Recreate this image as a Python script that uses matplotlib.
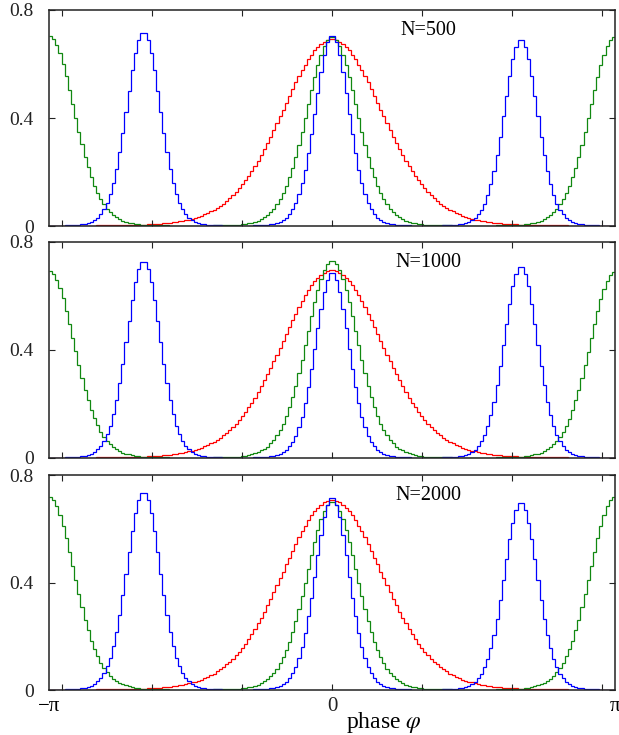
import numpy as np
import matplotlib
matplotlib.use("Agg")
from matplotlib import pyplot as plt

plt.rcParams['font.family'] = ['Liberation Serif', 'DejaVu Serif']
plt.rcParams['mathtext.fontset'] = 'stix'

# histogram values, 180 bins of 2 degrees from -pi to pi
# red: one cluster, green: two clusters, blue: three clusters

# ---- N = 500 ----
red_500_a = [
	0.001,0.001,0.001,0.001,0.001,0.001,0.001,0.001,0.001,0.001,
	0.001,0.001,0.001,0.001,0.001,0.002,0.002,0.002,0.002,0.002,
	0.002,0.002,0.003,0.003,0.003,0.003,0.004,0.004,0.004,0.005,
	0.005,0.006,0.006,0.007,0.008,0.009,0.010,0.011,0.012,0.014,
	0.015,0.017,0.019,0.021,0.024,0.027,0.030,0.034,0.038,0.043,
	0.048,0.054,0.060,0.067,0.075,0.083,0.093,0.103,0.114,0.126,
	0.139,0.154,0.169,0.186,0.203,0.222,0.242,0.263,0.285,0.308,
	0.331,0.356,0.380,0.406,0.431,0.457,0.482,0.507,0.532,0.555,
	0.577,0.598,0.617,0.635,0.650,0.663,0.674,0.682,0.688,0.691]
red_500_b = [
	0.691,0.688,0.682,0.674,0.663,0.650,0.635,0.617,0.598,0.577,
	0.555,0.532,0.507,0.482,0.457,0.431,0.406,0.380,0.356,0.331,
	0.308,0.285,0.263,0.242,0.222,0.203,0.186,0.169,0.154,0.139,
	0.126,0.114,0.103,0.093,0.083,0.075,0.067,0.060,0.054,0.048,
	0.043,0.038,0.034,0.030,0.027,0.024,0.021,0.019,0.017,0.015,
	0.014,0.012,0.011,0.010,0.009,0.008,0.007,0.006,0.006,0.005,
	0.005,0.004,0.004,0.004,0.003,0.003,0.003,0.003,0.002,0.002,
	0.002,0.002,0.002,0.002,0.002,0.001,0.001,0.001,0.001,0.001,
	0.001,0.001,0.001,0.001,0.001,0.001,0.001,0.001,0.001,0.001]
green_500_l = [
	0.704,0.693,0.670,0.639,0.600,0.554,0.505,0.453,0.401,0.350,
	0.302,0.257,0.217,0.181,0.149,0.122,0.100,0.081,0.064,0.052,
	0.041,0.033,0.027,0.020,0.016,0.013,0.010,0.008,0.007,0.005,
	0.004,0.004,0.003,0.003,0.002,0.002,0.002,0.002,0.001,0.001,
	0.001,0.001,0.001,0.001,0.001]
green_500_m = [
	0.001,0.001,0.001,0.001,0.001,0.001,0.001,0.002,0.002,0.002,
	0.002,0.003,0.003,0.004,0.004,0.005,0.007,0.008,0.010,0.013,
	0.016,0.020,0.026,0.032,0.041,0.052,0.064,0.080,0.099,0.122,
	0.148,0.180,0.216,0.256,0.300,0.348,0.399,0.451,0.502,0.551,
	0.597,0.635,0.667,0.689,0.700,
	0.700,0.689,0.667,0.635,0.597,0.551,0.502,0.451,0.399,0.348,
	0.300,0.256,0.216,0.180,0.148,0.122,0.099,0.080,0.064,0.052,
	0.041,0.032,0.026,0.020,0.016,0.013,0.010,0.008,0.007,0.005,
	0.004,0.004,0.003,0.003,0.002,0.002,0.002,0.002,0.001,0.001,
	0.001,0.001,0.001,0.001,0.001]
green_500_r = [
	0.001,0.001,0.001,0.001,0.001,0.001,0.001,0.002,0.002,0.002,
	0.002,0.003,0.003,0.004,0.004,0.005,0.007,0.008,0.010,0.013,
	0.016,0.020,0.026,0.032,0.041,0.052,0.064,0.080,0.099,0.122,
	0.148,0.180,0.216,0.256,0.300,0.348,0.399,0.451,0.502,0.551,
	0.597,0.635,0.667,0.689,0.700]
blue_500_l = [
	0.001,0.001,0.001,0.001,0.001,0.002,0.002,0.003,0.003,0.004,
	0.006,0.008,0.011,0.016,0.022,0.031,0.045,0.062,0.086,0.119,
	0.160,0.211,0.274,0.344,0.422,0.501,0.577,0.642,0.690,0.716,
	0.716,0.690,0.642,0.577,0.501,0.422,0.344,0.274,0.211,0.160,
	0.119,0.086,0.062,0.045,0.031,0.022,0.016,0.011,0.008,0.006,
	0.004,0.003,0.003,0.002,0.002,0.001,0.001,0.001,0.001,0.001]
blue_500_m = [
	0.001,0.001,0.001,0.001,0.001,0.002,0.002,0.003,0.003,0.004,
	0.006,0.008,0.011,0.015,0.022,0.031,0.044,0.062,0.085,0.117,
	0.158,0.208,0.270,0.339,0.416,0.494,0.569,0.632,0.680,0.705,
	0.705,0.680,0.632,0.569,0.494,0.416,0.339,0.270,0.208,0.158,
	0.117,0.085,0.062,0.044,0.031,0.022,0.015,0.011,0.008,0.006,
	0.004,0.003,0.003,0.002,0.002,0.001,0.001,0.001,0.001,0.001]
blue_500_r = [
	0.001,0.001,0.001,0.001,0.001,0.002,0.002,0.003,0.003,0.004,
	0.006,0.008,0.011,0.015,0.021,0.030,0.043,0.060,0.083,0.114,
	0.154,0.203,0.263,0.331,0.406,0.482,0.555,0.617,0.663,0.688,
	0.688,0.663,0.617,0.555,0.482,0.406,0.331,0.263,0.203,0.154,
	0.114,0.083,0.060,0.043,0.030,0.021,0.015,0.011,0.008,0.006,
	0.004,0.003,0.003,0.002,0.002,0.001,0.001,0.001,0.001,0.001]

# ---- N = 1000 ----
red_1000_a = [
	0.001,0.001,0.001,0.001,0.001,0.001,0.001,0.001,0.001,0.001,
	0.001,0.001,0.001,0.001,0.001,0.002,0.002,0.002,0.002,0.002,
	0.002,0.002,0.003,0.003,0.003,0.003,0.004,0.004,0.004,0.005,
	0.005,0.006,0.006,0.007,0.008,0.009,0.010,0.011,0.012,0.014,
	0.015,0.017,0.019,0.021,0.024,0.027,0.030,0.034,0.038,0.043,
	0.048,0.054,0.060,0.067,0.075,0.084,0.094,0.104,0.115,0.127,
	0.140,0.155,0.170,0.187,0.204,0.223,0.243,0.265,0.287,0.310,
	0.333,0.358,0.382,0.408,0.434,0.460,0.485,0.510,0.535,0.558,
	0.580,0.602,0.621,0.639,0.654,0.667,0.678,0.686,0.692,0.695]
red_1000_b = [
	0.695,0.692,0.686,0.678,0.667,0.654,0.639,0.621,0.602,0.580,
	0.558,0.535,0.510,0.485,0.460,0.434,0.408,0.382,0.358,0.333,
	0.310,0.287,0.265,0.243,0.223,0.204,0.187,0.170,0.155,0.140,
	0.127,0.115,0.104,0.094,0.084,0.075,0.067,0.060,0.054,0.048,
	0.043,0.038,0.034,0.030,0.027,0.024,0.021,0.019,0.017,0.015,
	0.014,0.012,0.011,0.010,0.009,0.008,0.007,0.006,0.006,0.005,
	0.005,0.004,0.004,0.004,0.003,0.003,0.003,0.003,0.002,0.002,
	0.002,0.002,0.002,0.002,0.002,0.001,0.001,0.001,0.001,0.001,
	0.001,0.001,0.001,0.001,0.001,0.001,0.001,0.001,0.001,0.001]
green_1000_l = [
	0.693,0.682,0.660,0.629,0.591,0.546,0.497,0.446,0.395,0.345,
	0.297,0.253,0.214,0.178,0.147,0.121,0.098,0.079,0.063,0.051,
	0.040,0.032,0.026,0.020,0.016,0.013,0.010,0.008,0.007,0.005,
	0.004,0.004,0.003,0.003,0.002,0.002,0.002,0.002,0.001,0.001,
	0.001,0.001,0.001,0.001,0.001]
green_1000_m = [
	0.001,0.001,0.001,0.001,0.001,0.001,0.001,0.002,0.002,0.002,
	0.002,0.003,0.003,0.004,0.004,0.005,0.007,0.008,0.011,0.014,
	0.017,0.021,0.028,0.034,0.042,0.054,0.067,0.084,0.104,0.127,
	0.155,0.188,0.226,0.267,0.314,0.364,0.417,0.471,0.525,0.576,
	0.623,0.664,0.696,0.720,0.731,
	0.731,0.720,0.696,0.664,0.623,0.576,0.525,0.471,0.417,0.364,
	0.314,0.267,0.226,0.188,0.155,0.127,0.104,0.084,0.067,0.054,
	0.042,0.034,0.028,0.021,0.017,0.014,0.011,0.008,0.007,0.005,
	0.004,0.004,0.003,0.003,0.002,0.002,0.002,0.002,0.001,0.001,
	0.001,0.001,0.001,0.001,0.001]
green_1000_r = [
	0.001,0.001,0.001,0.001,0.001,0.001,0.001,0.002,0.002,0.002,
	0.002,0.003,0.003,0.004,0.004,0.005,0.007,0.008,0.010,0.013,
	0.016,0.020,0.026,0.032,0.040,0.051,0.063,0.079,0.098,0.120,
	0.146,0.177,0.213,0.252,0.296,0.343,0.393,0.444,0.495,0.543,
	0.588,0.626,0.657,0.679,0.690]
blue_1000_l = [
	0.001,0.001,0.001,0.001,0.001,0.002,0.002,0.003,0.003,0.004,
	0.006,0.008,0.012,0.016,0.022,0.032,0.045,0.063,0.088,0.120,
	0.162,0.214,0.277,0.349,0.428,0.509,0.586,0.651,0.699,0.726,
	0.726,0.699,0.651,0.586,0.509,0.428,0.349,0.277,0.214,0.162,
	0.120,0.088,0.063,0.045,0.032,0.022,0.016,0.012,0.008,0.006,
	0.004,0.003,0.003,0.002,0.002,0.001,0.001,0.001,0.001,0.001]
blue_1000_m = [
	0.001,0.001,0.001,0.001,0.001,0.002,0.002,0.003,0.003,0.004,
	0.006,0.008,0.011,0.015,0.021,0.030,0.043,0.060,0.083,0.113,
	0.153,0.202,0.262,0.329,0.404,0.480,0.552,0.614,0.660,0.685,
	0.685,0.660,0.614,0.552,0.480,0.404,0.329,0.262,0.202,0.153,
	0.113,0.083,0.060,0.043,0.030,0.021,0.015,0.011,0.008,0.006,
	0.004,0.003,0.003,0.002,0.002,0.001,0.001,0.001,0.001,0.001]
blue_1000_r = [
	0.001,0.001,0.001,0.001,0.001,0.002,0.002,0.003,0.003,0.004,
	0.006,0.008,0.011,0.015,0.022,0.031,0.044,0.062,0.085,0.117,
	0.159,0.209,0.271,0.341,0.418,0.496,0.572,0.636,0.683,0.709,
	0.709,0.683,0.636,0.572,0.496,0.418,0.341,0.271,0.209,0.159,
	0.117,0.085,0.062,0.044,0.031,0.022,0.015,0.011,0.008,0.006,
	0.004,0.003,0.003,0.002,0.002,0.001,0.001,0.001,0.001,0.001]

# ---- N = 2000 ----
red_2000_a = [
	0.001,0.001,0.001,0.001,0.001,0.001,0.001,0.001,0.001,0.001,
	0.001,0.001,0.001,0.001,0.001,0.002,0.002,0.002,0.002,0.002,
	0.002,0.002,0.003,0.003,0.003,0.003,0.004,0.004,0.004,0.005,
	0.005,0.006,0.006,0.007,0.008,0.009,0.010,0.011,0.012,0.014,
	0.015,0.017,0.019,0.021,0.025,0.028,0.031,0.035,0.039,0.044,
	0.049,0.055,0.061,0.069,0.077,0.085,0.095,0.105,0.117,0.129,
	0.142,0.158,0.173,0.190,0.208,0.227,0.248,0.269,0.292,0.315,
	0.339,0.364,0.389,0.415,0.441,0.468,0.493,0.519,0.544,0.568,
	0.590,0.612,0.631,0.650,0.665,0.678,0.690,0.698,0.704,0.707]
red_2000_b = [
	0.707,0.704,0.698,0.690,0.678,0.665,0.650,0.631,0.612,0.590,
	0.568,0.544,0.519,0.493,0.468,0.441,0.415,0.389,0.364,0.339,
	0.315,0.292,0.269,0.248,0.227,0.208,0.190,0.173,0.158,0.142,
	0.129,0.117,0.105,0.095,0.085,0.077,0.069,0.061,0.055,0.049,
	0.044,0.039,0.035,0.031,0.028,0.025,0.021,0.019,0.017,0.015,
	0.014,0.012,0.011,0.010,0.009,0.008,0.007,0.006,0.006,0.005,
	0.005,0.004,0.004,0.004,0.003,0.003,0.003,0.003,0.002,0.002,
	0.002,0.002,0.002,0.002,0.002,0.001,0.001,0.001,0.001,0.001,
	0.001,0.001,0.001,0.001,0.001,0.001,0.001,0.001,0.001,0.001]
green_2000_l = [
	0.718,0.706,0.683,0.651,0.612,0.565,0.515,0.462,0.409,0.357,
	0.308,0.262,0.222,0.184,0.152,0.125,0.102,0.082,0.066,0.053,
	0.042,0.033,0.027,0.021,0.017,0.014,0.010,0.008,0.007,0.005,
	0.004,0.004,0.003,0.003,0.002,0.002,0.002,0.002,0.001,0.001,
	0.001,0.001,0.001,0.001,0.001]
green_2000_m = [
	0.001,0.001,0.001,0.001,0.001,0.001,0.001,0.002,0.002,0.002,
	0.002,0.003,0.003,0.004,0.004,0.005,0.007,0.008,0.010,0.013,
	0.016,0.020,0.026,0.032,0.041,0.052,0.064,0.080,0.099,0.122,
	0.148,0.180,0.216,0.256,0.300,0.348,0.399,0.451,0.502,0.551,
	0.597,0.635,0.667,0.689,0.700,
	0.700,0.689,0.667,0.635,0.597,0.551,0.502,0.451,0.399,0.348,
	0.300,0.256,0.216,0.180,0.148,0.122,0.099,0.080,0.064,0.052,
	0.041,0.032,0.026,0.020,0.016,0.013,0.010,0.008,0.007,0.005,
	0.004,0.004,0.003,0.003,0.002,0.002,0.002,0.002,0.001,0.001,
	0.001,0.001,0.001,0.001,0.001]
green_2000_r = [
	0.001,0.001,0.001,0.001,0.001,0.001,0.001,0.002,0.002,0.002,
	0.002,0.003,0.003,0.004,0.004,0.005,0.007,0.008,0.010,0.014,
	0.017,0.021,0.027,0.033,0.042,0.053,0.066,0.082,0.102,0.125,
	0.152,0.184,0.222,0.262,0.308,0.357,0.409,0.462,0.515,0.565,
	0.612,0.651,0.683,0.706,0.718]
blue_2000_l = [
	0.001,0.001,0.001,0.001,0.001,0.002,0.002,0.003,0.003,0.004,
	0.006,0.009,0.012,0.016,0.022,0.032,0.046,0.064,0.088,0.121,
	0.164,0.216,0.280,0.353,0.432,0.513,0.591,0.657,0.706,0.733,
	0.733,0.706,0.657,0.591,0.513,0.432,0.353,0.280,0.216,0.164,
	0.121,0.088,0.064,0.046,0.032,0.022,0.016,0.012,0.009,0.006,
	0.004,0.003,0.003,0.002,0.002,0.001,0.001,0.001,0.001,0.001]
blue_2000_m = [
	0.001,0.001,0.001,0.001,0.001,0.002,0.002,0.003,0.003,0.004,
	0.006,0.008,0.011,0.016,0.022,0.031,0.045,0.062,0.086,0.119,
	0.160,0.211,0.274,0.344,0.422,0.501,0.577,0.642,0.690,0.716,
	0.716,0.690,0.642,0.577,0.501,0.422,0.344,0.274,0.211,0.160,
	0.119,0.086,0.062,0.045,0.031,0.022,0.016,0.011,0.008,0.006,
	0.004,0.003,0.003,0.002,0.002,0.001,0.001,0.001,0.001,0.001]
blue_2000_r = [
	0.001,0.001,0.001,0.001,0.001,0.002,0.002,0.003,0.003,0.004,
	0.006,0.008,0.011,0.015,0.021,0.030,0.043,0.061,0.084,0.115,
	0.156,0.205,0.266,0.334,0.410,0.487,0.561,0.623,0.670,0.695,
	0.695,0.670,0.623,0.561,0.487,0.410,0.334,0.266,0.205,0.156,
	0.115,0.084,0.061,0.043,0.030,0.021,0.015,0.011,0.008,0.006,
	0.004,0.003,0.003,0.002,0.002,0.001,0.001,0.001,0.001,0.001]

panels = [
	("N=500", red_500_a + red_500_b,
		green_500_l + green_500_m + green_500_r,
		blue_500_l + blue_500_m + blue_500_r),
	("N=1000", red_1000_a + red_1000_b,
		green_1000_l + green_1000_m + green_1000_r,
		blue_1000_l + blue_1000_m + blue_1000_r),
	("N=2000", red_2000_a + red_2000_b,
		green_2000_l + green_2000_m + green_2000_r,
		blue_2000_l + blue_2000_m + blue_2000_r),
]

colors = ["#ff0000", "#118811", "#0000ff"]
# (bottom, height) of each panel in figure fractions
boxes = [(0.6925, 0.2939), (0.3769, 0.2939), (0.0612, 0.2925)]

fig = plt.figure(figsize=(6.19, 7.35), dpi=100)

for k in range(len(panels)):
	label, red, green, blue = panels[k]
	assert len(red) == 180 and len(green) == 180 and len(blue) == 180, (label, len(red), len(green), len(blue))
	ax = fig.add_axes([0.0792, boxes[k][0], 0.9144, boxes[k][1]])
	edges = np.linspace(-np.pi, np.pi, len(red) + 1)
	for vals, col in zip([red, green, blue], colors):
		ax.stairs(vals, edges, color=col, lw=0.9, baseline=None)

	ax.set_xlim(-np.pi, np.pi)
	ax.set_ylim(0, 0.8)
	ax.set_yticks([0, 0.4, 0.8], ["0", "0.4", "0.8"])
	ax.set_xticks(range(-3, 4))
	if k == len(panels) - 1:
		ax.set_xticklabels(["", "", "", "0", "", "", ""])
		ax.set_xticks([-np.pi, np.pi], ["\u2212\u03c0", "\u03c0"], minor=True)
	else:
		ax.set_xticklabels([])
	ax.tick_params(which='major', direction='in', top=True, right=True, length=4, width=0.8,
		labelsize=15, pad=5, colors='#222222')
	ax.tick_params(axis='y', pad=11, labelsize=14)
	ax.tick_params(which='minor', length=0, labelsize=15, pad=5)
	for s in ax.spines.values():
		s.set_linewidth(1.1)
		s.set_color('#222222')
	ax.text(0.67, 0.905, label, transform=ax.transAxes, ha='center', va='center', fontsize=14.5)

fig.text(0.62, 0.009, r"phase $\varphi$", ha='center', va='baseline', fontsize=17)

fig.savefig("out.png", dpi=100)
plt.close()
